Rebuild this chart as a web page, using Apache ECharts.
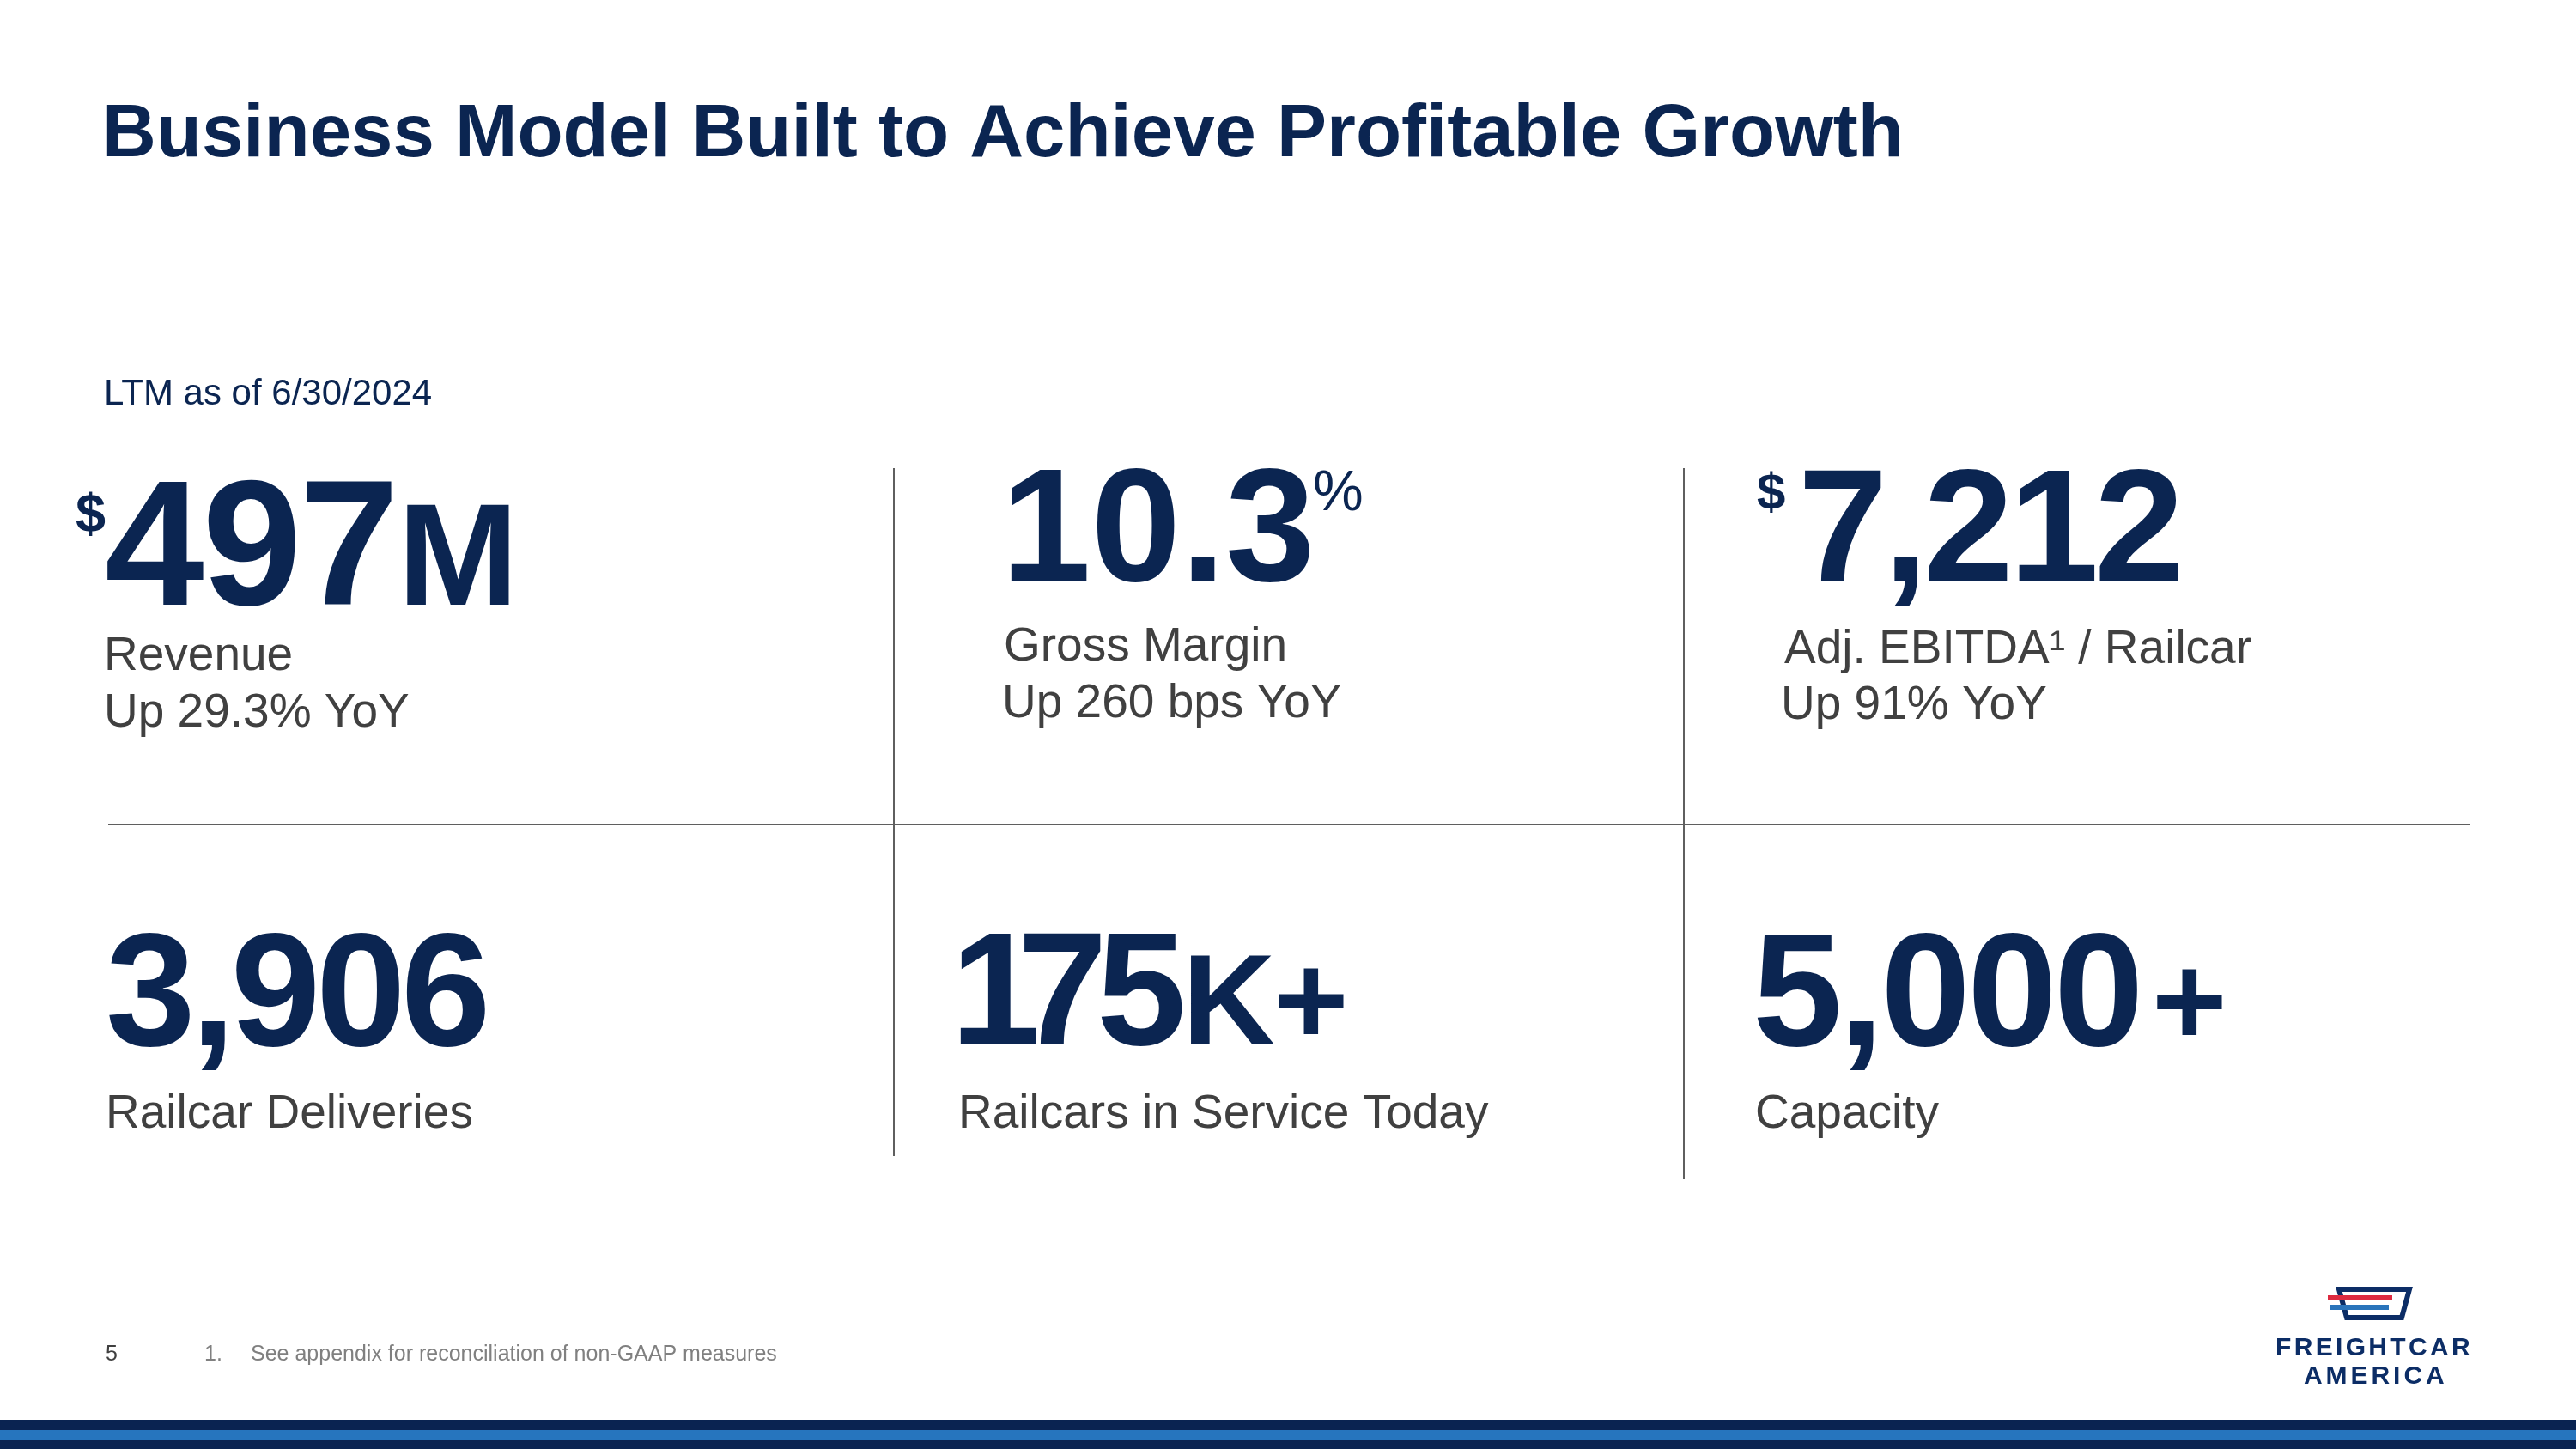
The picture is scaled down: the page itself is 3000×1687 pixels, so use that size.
<!DOCTYPE html>
<html><head><meta charset="utf-8">
<script src="https://cdn.jsdelivr.net/npm/echarts@6/dist/echarts.min.js"></script>
<style>html,body{margin:0;padding:0;background:#fff}#c{width:3000px;height:1687px}</style>
</head><body><div id="c"></div>
<script>
// ---------- data ----------
const titleText = 'Business Model Built to Achieve Profitable Growth';
const periodText = 'LTM as of 6/30/2024';
const kpiPrefix = ['$', '', '$', '', '', ''];
const kpiValue = ['497', '10.3', '7,212', '3,906', '175', '5,000'];
const kpiSuffix = ['M', '%', '', '', 'K+', '+'];
const kpiLabel = ['Revenue', 'Gross Margin', 'Adj. EBITDA\u00B9 / Railcar', 'Railcar Deliveries', 'Railcars in Service Today', 'Capacity'];
const kpiChange = ['Up 29.3% YoY', 'Up 260 bps YoY', 'Up 91% YoY', '', '', ''];
const pageNumber = '5';
const footnoteMarks = ['1.'];
const footnotes = ['See appendix for reconciliation of non-GAAP measures'];
const logoLines = ['FREIGHTCAR', 'AMERICA'];

// ---------- layout / style ----------
const FAMILY = '"Liberation Sans", Arial, sans-serif';
const NAVY = '#0b2551';
const GRAY = '#404040';
const LIGHTGRAY = '#808080';
const RULE = '#5f5f5f';
// ink boxes for each KPI cell: nL/nR = ink span (or nInk = per-glyph ink lefts), base = baseline
const cells = [
  {pL: 88,   pTop: 572, pSize: 63, nL: 125,  nR: 456,  base: 704,  nSize: 208, sL: 474,  sBase: 704,  sSize: 169, sWeight: 'bold',   lx: 125,  lBase: 780,  cBase: 846},
  {nL: 1177, nR: 1525, base: 676,  nSize: 188, sL: 1531, sTop: 547,  sSize: 66,  sWeight: 'normal', lx: 1171, lBase: 769,  cBase: 835},
  {pL: 2046, pTop: 548, pSize: 60, nL: 2102, nR: 2537, base: 677,  nSize: 188, lx: 2078, lBase: 772,  cBase: 837},
  {nL: 127,  nR: 565,  base: 1217, nSize: 188, lx: 127,  lBase: 1313},
  {nInk: [1118, 1193, 1282], base: 1216, nSize: 188, sInk: [1387, 1489], sBase: 1216, sSize: 150, sWeight: 'bold', lx: 1120, lBase: 1313},
  {nL: 2046, nR: 2489, base: 1217, nSize: 188, sL: 2512, sBase: 1217, sSize: 150, sWeight: 'bold',   lx: 2046, lBase: 1313}
];
const LABEL_SIZE = 55;

const mctx = document.createElement('canvas').getContext('2d');
function met(t, size, weight) {
  mctx.font = (weight || 'normal') + ' ' + size + 'px ' + FAMILY;
  const m = mctx.measureText(t);
  return {w: m.width, l: m.actualBoundingBoxLeft, r: m.actualBoundingBoxRight, a: m.actualBoundingBoxAscent, d: m.actualBoundingBoxDescent};
}
// distance from canvas 'middle' line to alphabetic baseline, per px of font size
mctx.font = 'bold 100px ' + FAMILY;
mctx.textBaseline = 'middle';
const KB = mctx.measureText('H').actualBoundingBoxDescent / 100;
mctx.textBaseline = 'alphabetic';

const els = [];
function put(t, x, base, size, color, weight) {
  els.push({
    type: 'text', x: x, y: base - KB * size, silent: true,
    style: {text: t, fill: color, fontSize: size, fontWeight: weight || 'normal', fontFamily: FAMILY,
            align: 'left', verticalAlign: 'middle', textAlign: 'left', textVerticalAlign: 'middle'}
  });
}
// draw text so its ink starts at inkL; if inkR is given, spread letters to end at inkR
function drawInk(t, inkL, inkR, base, size, color, weight) {
  const chars = Array.from(t);
  if (inkR == null || chars.length < 2) {
    const m = met(t, size, weight);
    put(t, inkL + m.l, base, size, color, weight);
    return;
  }
  const ms = chars.map(c => met(c, size, weight));
  let nat = ms[0].l + ms[chars.length - 1].r;
  for (let i = 0; i < chars.length - 1; i++) nat += ms[i].w;
  const ls = (inkR - inkL - nat) / (chars.length - 1);
  let cx = inkL + ms[0].l;
  chars.forEach((c, i) => { put(c, cx, base, size, color, weight); cx += ms[i].w + ls; });
}
// draw each glyph with its own ink-left position
function drawGlyphs(t, inks, base, size, color, weight) {
  Array.from(t).forEach((c, i) => drawInk(c, inks[i], null, base, size, color, weight));
}
function baseFromTop(t, top, size, weight) { return top + met(t, size, weight).a; }

// title & period
drawInk(titleText, 124, null, 182, 87, NAVY, 'bold');
drawInk(periodText, 124, null, 471, 42, NAVY, 'normal');

// KPI cells
kpiValue.forEach((v, i) => {
  const c = cells[i];
  if (kpiPrefix[i]) drawInk(kpiPrefix[i], c.pL, null, baseFromTop(kpiPrefix[i], c.pTop, c.pSize, 'bold'), c.pSize, NAVY, 'bold');
  if (c.nInk) drawGlyphs(v, c.nInk, c.base, c.nSize, NAVY, 'bold');
  else drawInk(v, c.nL, c.nR, c.base, c.nSize, NAVY, 'bold');
  if (kpiSuffix[i]) {
    const sb = c.sTop != null ? baseFromTop(kpiSuffix[i], c.sTop, c.sSize, c.sWeight) : c.sBase;
    if (c.sInk) drawGlyphs(kpiSuffix[i], c.sInk, sb, c.sSize, NAVY, c.sWeight);
    else drawInk(kpiSuffix[i], c.sL, null, sb, c.sSize, NAVY, c.sWeight);
  }
  drawInk(kpiLabel[i], c.lx, null, c.lBase, LABEL_SIZE, GRAY, 'normal');
  if (kpiChange[i]) drawInk(kpiChange[i], c.lx, null, c.cBase, LABEL_SIZE, GRAY, 'normal');
});

// grid rules
els.push({type: 'line', silent: true, shape: {x1: 126, y1: 960, x2: 2877, y2: 960}, style: {stroke: RULE, lineWidth: 2}});
els.push({type: 'line', silent: true, shape: {x1: 1041, y1: 545, x2: 1041, y2: 1346}, style: {stroke: RULE, lineWidth: 2}});
els.push({type: 'line', silent: true, shape: {x1: 1961, y1: 545, x2: 1961, y2: 1373}, style: {stroke: RULE, lineWidth: 2}});

// footer
drawInk(pageNumber, 124, null, 1584, 25, GRAY, 'normal');
drawInk(footnoteMarks[0], 239, null, 1584, 25, LIGHTGRAY, 'normal');
drawInk(footnotes[0], 293, null, 1584, 25, LIGHTGRAY, 'normal');

// bottom bands
els.push({type: 'rect', silent: true, shape: {x: 0, y: 1653, width: 3000, height: 12}, style: {fill: '#0a2351'}});
els.push({type: 'rect', silent: true, shape: {x: 0, y: 1665, width: 3000, height: 11}, style: {fill: '#2675be'}});
els.push({type: 'rect', silent: true, shape: {x: 0, y: 1676, width: 3000, height: 11}, style: {fill: '#0a2351'}});

// logo
const LOGO = '#0c2d66';
els.push({type: 'polygon', silent: true, shape: {points: [[2724, 1501], [2806, 1501], [2797, 1534], [2733, 1534]]}, style: {fill: 'none', stroke: LOGO, lineWidth: 6}});
els.push({type: 'rect', silent: true, shape: {x: 2711, y: 1508, width: 75, height: 6}, style: {fill: '#dd2a40'}});
els.push({type: 'rect', silent: true, shape: {x: 2714, y: 1519, width: 68, height: 6}, style: {fill: '#2a74bb'}});
drawInk(logoLines[0], 2652, 2877, 1578, 30, LOGO, 'bold');
drawInk(logoLines[1], 2683, 2846, 1611, 30, LOGO, 'bold');

const chart = echarts.init(document.getElementById('c'), null, {renderer: 'canvas', width: 3000, height: 1687});
chart.setOption({backgroundColor: '#ffffff', animation: false, graphic: {elements: els}});
</script>
</body></html>
